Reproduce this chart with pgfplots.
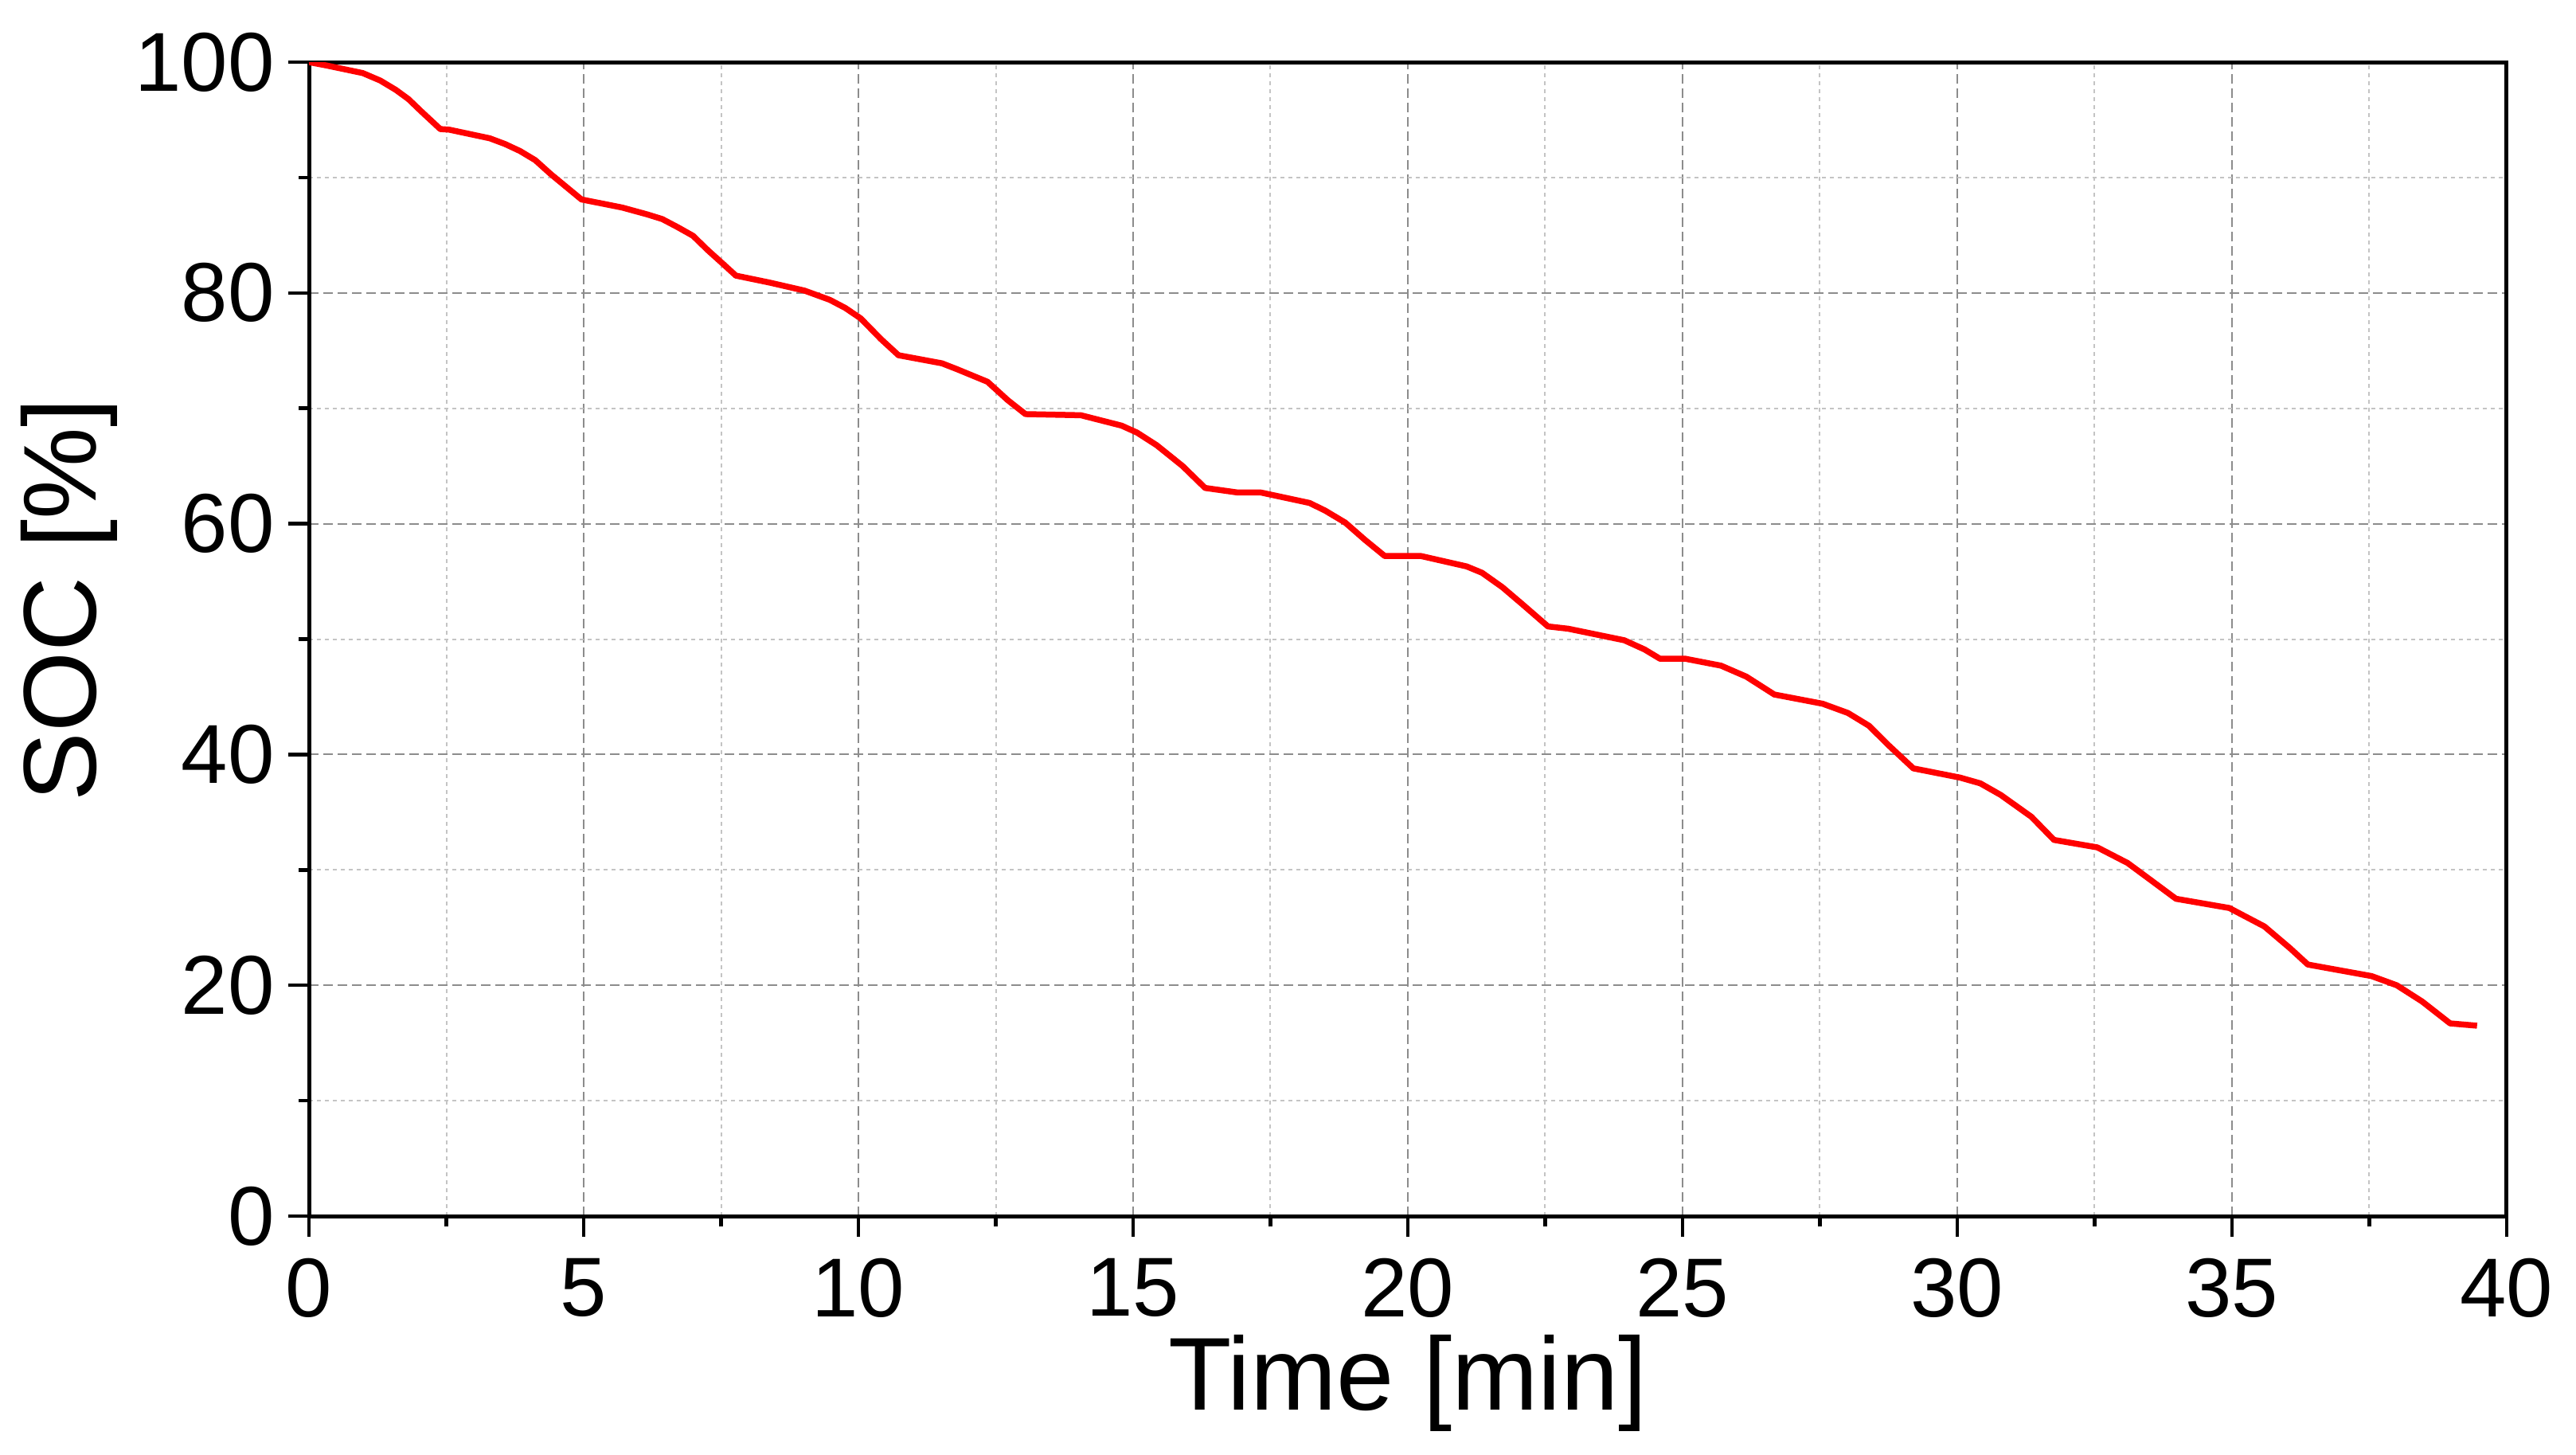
\documentclass[border=0pt]{standalone}
\usepackage{fontspec}
\setmainfont{Liberation Sans}
\usepackage{pgfplots}
\pgfplotsset{compat=1.18}
\definecolor{majgrid}{HTML}{8C8C8C}
\definecolor{mingrid}{HTML}{C4C4C4}
\begin{document}
\begin{tikzpicture}
\useasboundingbox (-38.8pt,-29.9pt) rectangle (284.7pt,152.7pt);
\begin{axis}[
    scale only axis,
    width=276pt,
    height=144.9pt,
    xmin=0, xmax=40,
    ymin=0, ymax=100,
    xtick={0,5,...,40},
    ytick={0,20,...,100},
    minor x tick num=1,
    minor y tick num=1,
    tick align=outside,
    xtick pos=left,
    ytick pos=left,
    major tick length=2.6pt,
    minor tick length=1.3pt,
    axis line style={line width=0.5pt},
    every tick/.style={black,line width=0.45pt},
    grid=both,
    major grid style={majgrid,line width=0.2pt,dash pattern=on 1.2pt off 0.6pt},
    minor grid style={mingrid,line width=0.2pt,dash pattern=on 0.5pt off 0.5pt},
    /pgf/number format/assume math mode=true,
    tick label style={font=\fontsize{10.5}{12}\selectfont},
    yticklabel style={xshift=1.8pt},
    xticklabel style={inner sep=1pt,yshift=-1.5pt},
    xlabel={Time [min]},
    ylabel={SOC [\%]},
    label style={font=\fontsize{13}{15}\selectfont},
    xlabel style={at={(axis description cs:0.5,-0.1677)},anchor=base,inner sep=0pt},
    ylabel style={at={(axis description cs:-0.109,0.534)},anchor=center,rotate=0},
    ]
    \addplot[red,line width=0.75pt,line join=round] coordinates {
        (0,100) (0.33,99.7) (0.98,99.05) (1.30,98.4) (1.58,97.6) (1.81,96.8)
        (2.04,95.75) (2.39,94.2) (2.55,94.15) (3.29,93.4) (3.57,92.9)
        (3.84,92.3) (4.12,91.5) (4.40,90.3) (4.68,89.2) (4.96,88.1)
        (5.70,87.4) (6.16,86.8) (6.43,86.4) (6.71,85.7) (6.99,84.95)
        (7.26,83.7) (7.54,82.5) (7.77,81.5) (8.38,80.9) (9.02,80.2)
        (9.48,79.4) (9.76,78.7) (10.04,77.8) (10.41,76.0) (10.73,74.6)
        (11.52,73.9) (11.79,73.4) (12.35,72.3) (12.72,70.7) (13.04,69.5)
        (14.05,69.4) (14.79,68.5) (15.07,67.9) (15.43,66.8) (15.90,65.0)
        (16.31,63.1) (16.91,62.7) (17.33,62.7) (18.21,61.8) (18.49,61.15)
        (18.86,60.1) (19.22,58.6) (19.58,57.2) (20.24,57.2) (21.07,56.3)
        (21.35,55.75) (21.72,54.5) (22.09,53.0) (22.55,51.1) (22.92,50.9)
        (23.94,49.9) (24.31,49.1) (24.59,48.3) (25.05,48.3) (25.70,47.7)
        (26.16,46.75) (26.67,45.2) (27.55,44.4) (28.01,43.6) (28.39,42.5)
        (28.75,40.8) (29.20,38.8) (30.05,38.0) (30.42,37.5) (30.79,36.5)
        (31.35,34.6) (31.76,32.6) (32.55,31.95) (33.10,30.6) (33.47,29.3)
        (33.98,27.5) (34.95,26.7) (35.59,25.1) (36.06,23.2) (36.38,21.8)
        (37.54,20.8) (38.00,20.0) (38.46,18.6) (38.97,16.7) (39.46,16.5)
    };
\end{axis}
\end{tikzpicture}
\end{document}
